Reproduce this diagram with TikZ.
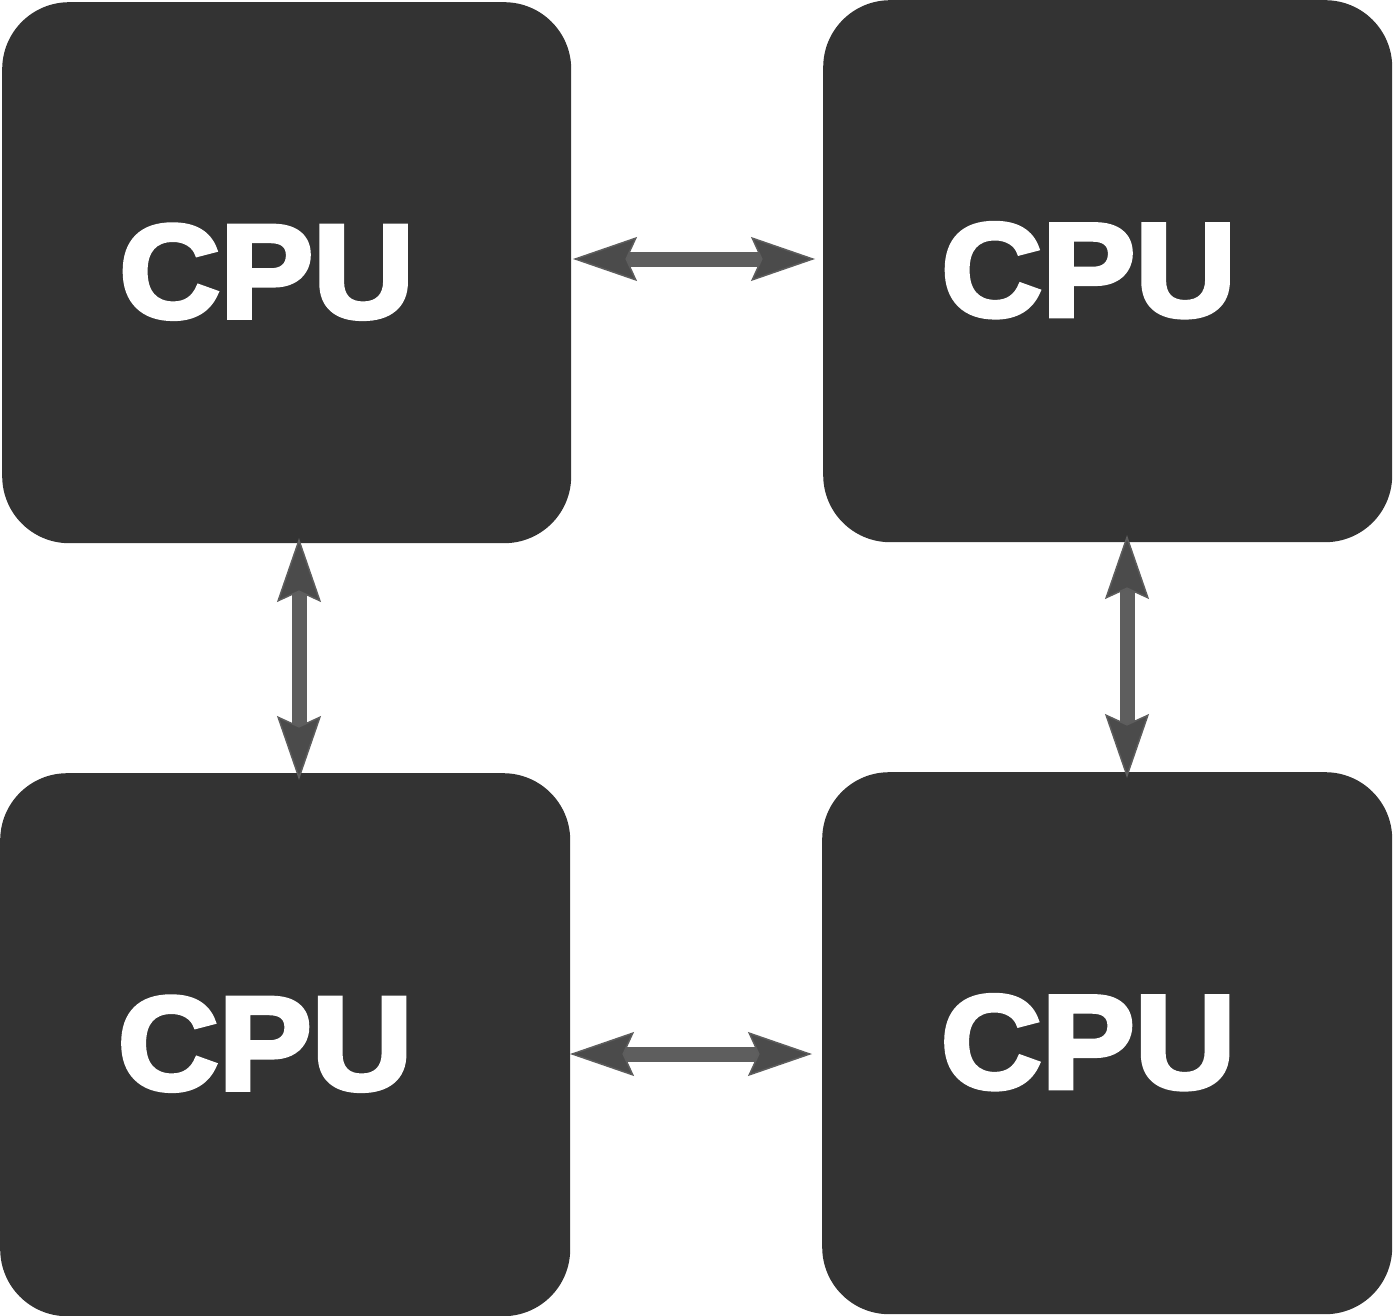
\documentclass[tikz,border=0pt]{standalone}
\usepackage{fontspec}
\setmainfont{Liberation Sans}
\newfontfamily\cpufont[FakeBold=3.5,FakeStretch=1.05]{Liberation Sans Bold}
\usetikzlibrary{arrows.meta}
\definecolor{boxgray}{HTML}{333333}
\definecolor{shaftgray}{HTML}{5E5E5E}
\definecolor{headgray}{HTML}{4B4B4B}
\tikzset{
  cpubox/.style={fill=boxgray, rounded corners=67pt, inner sep=0pt, anchor=north west},
  cpulabel/.style={text=white, inner sep=0pt, font=\fontsize{133}{133}\cpufont},
  link/.style={draw=shaftgray, line width=15pt,
    {Stealth[length=64pt,width=44pt,inset=10pt,line width=1.5pt,fill=headgray,color=headgray!90!white]}-{Stealth[length=64pt,width=44pt,inset=10pt,line width=1.5pt,fill=headgray,color=headgray!90!white]}}
}
\begin{document}
\begin{tikzpicture}[x=1pt,y=-1pt]
\useasboundingbox (0,0) rectangle (1394,1316);
\node[cpubox, minimum width=569pt, minimum height=541pt] (tl) at (2,2) {};
\node[cpubox, minimum width=569pt, minimum height=542pt] (tr) at (823,0) {};
\node[cpubox, minimum width=570pt, minimum height=543pt] (bl) at (0,773) {};
\node[cpubox, minimum width=570pt, minimum height=542pt] (br) at (822,772) {};
\node[cpulabel] (ltl) at ([xshift=-20pt,yshift=1pt]tl.center) {CPU};
\node[cpulabel] (ltr) at ([xshift=-19pt,yshift=1pt]tr.center) {CPU};
\node[cpulabel] (lbl) at ([xshift=-20pt,yshift=1pt]bl.center) {CPU};
\node[cpulabel] (lbr) at ([xshift=-19pt,yshift=1pt]br.center) {CPU};
\coordinate (h1a) at (573,259);
\coordinate (h1b) at (815,259);
\coordinate (v1a) at (299,538);
\coordinate (v1b) at (299,780);
\coordinate (v2a) at (1127,535);
\coordinate (v2b) at (1127,778);
\coordinate (h2a) at (570,1054);
\coordinate (h2b) at (812,1054);
\draw[link] (h1a) -- (h1b);
\draw[link] (v1a) -- (v1b);
\draw[link] (v2a) -- (v2b);
\draw[link] (h2a) -- (h2b);
\end{tikzpicture}
\end{document}
